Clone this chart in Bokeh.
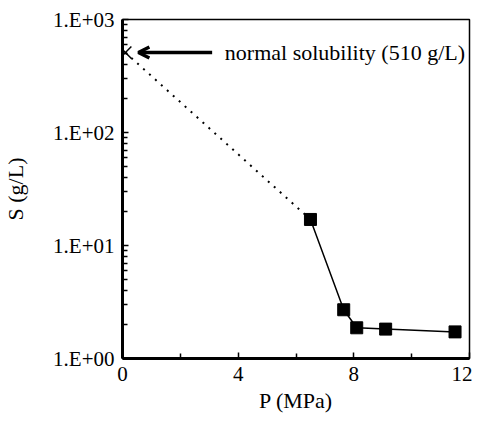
from bokeh.plotting import figure
from bokeh.models import FixedTicker, Range1d, Label, Arrow, OpenHead
from bokeh.embed import file_html
from bokeh.resources import INLINE

# ---- data ----
P = [6.5, 7.65, 8.1, 9.1, 11.5]          # MPa
S = [17.0, 2.7, 1.87, 1.82, 1.72]        # g/L
normal_P = [0.1]
normal_S = [510.0]
annotation_text = "normal solubility (510 g/L)"
x_title = "P (MPa)"
y_title = "S (g/L)"

x_ticks = [0, 4, 8, 12]
x_minor_ticks = [2, 6, 10]
y_ticks = [1, 10, 100, 1000]
y_tick_labels = ["1.E+00", "1.E+01", "1.E+02", "1.E+03"]

FONT = "Liberation Serif"

FRAME_W, FRAME_H = 347, 339
BL, BR, BT, BB = 122, 3, 19, 62

p = figure(width=BL + FRAME_W + BR, height=BT + FRAME_H + BB, y_axis_type="log",
           x_range=Range1d(0, 12), y_range=Range1d(1, 1000),
           output_backend="svg", toolbar_location=None,
           min_border_left=BL, min_border_right=BR,
           min_border_top=BT, min_border_bottom=BB)

p.background_fill_color = "white"
p.border_fill_color = "white"
p.outline_line_color = "black"
p.outline_line_width = 1.5
p.xgrid.visible = False
p.ygrid.visible = False

y_minor = [d * k for d in y_ticks[:-1] for k in range(2, 10)]

p.xaxis.ticker = FixedTicker(ticks=x_ticks, minor_ticks=x_minor_ticks)
p.yaxis.ticker = FixedTicker(ticks=y_ticks, minor_ticks=y_minor)
p.yaxis.major_label_overrides = {t: l for t, l in zip(y_ticks, y_tick_labels)}

for ax in (p.xaxis[0], p.yaxis[0]):
    ax.axis_line_width = 3
    ax.axis_line_color = "black"
    ax.major_tick_in = 6
    ax.major_tick_out = 0
    ax.minor_tick_in = 5
    ax.minor_tick_out = 0
    ax.major_tick_line_width = 1.5
    ax.minor_tick_line_width = 1.5
    ax.major_tick_line_color = "black"
    ax.minor_tick_line_color = "black"
    ax.major_label_text_font = FONT
    ax.major_label_text_font_size = "21px"
    ax.major_label_text_color = "black"
    ax.axis_label_text_font = FONT
    ax.axis_label_text_font_size = "22px"
    ax.axis_label_text_font_style = "normal"
    ax.axis_label_text_color = "black"

p.xaxis.axis_label = x_title
p.yaxis.axis_label = y_title
p.xaxis.major_label_standoff = 8
p.yaxis.major_label_standoff = 8
p.xaxis.axis_label_standoff = 4
p.yaxis.axis_label_standoff = 22

# dotted extrapolation to the normal solubility
p.line([normal_P[0], P[0]], [normal_S[0], S[0]], line_color="black",
       line_width=2, line_dash="2 6")
# measured data
p.line(P, S, line_color="black", line_width=1.5)
p.scatter(P, S, marker="square", size=12, fill_color="black", line_color="black")
# normal solubility marker
p.scatter(normal_P, normal_S, marker="x", size=17, line_color="black", line_width=1.5)

# arrow + annotation
p.add_layout(Arrow(end=OpenHead(size=11, line_width=3.5, line_color="black"),
                   x_start=normal_P[0] + 3.0, y_start=normal_S[0],
                   x_end=normal_P[0] + 0.45, y_end=normal_S[0],
                   line_width=3.5, line_color="black"))
p.add_layout(Label(x=normal_P[0] + 3.44, y=normal_S[0], text=annotation_text,
                   text_font=FONT, text_font_size="22px", text_baseline="middle",
                   text_align="left", text_color="black"))

open("out.html", "w").write(file_html(p, INLINE))
